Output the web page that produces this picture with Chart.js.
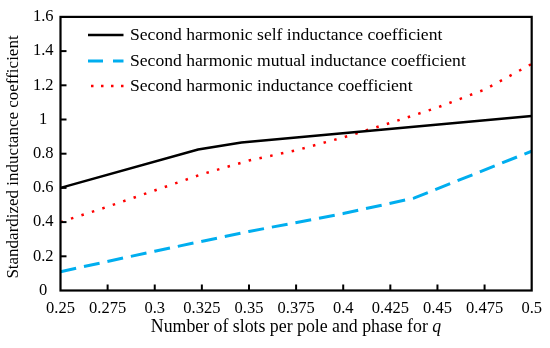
<!DOCTYPE html>
<html><head><meta charset="utf-8">
<script src="https://cdn.jsdelivr.net/npm/chart.js@4.4.1/dist/chart.umd.min.js"></script>
<style>html,body{margin:0;padding:0;background:#fff}</style>
</head><body>
<canvas id="c" width="550" height="348"></canvas>
<script>
const seriesLabels = [
  'Second harmonic self inductance coefficient',
  'Second harmonic mutual inductance coefficient',
  'Second harmonic inductance coefficient'
];
const selfX = [0.25, 0.323, 0.346, 0.5];
const selfY = [0.60, 0.825, 0.865, 1.02];
const mutualX = [0.25, 0.30, 0.35, 0.40, 0.4375, 0.5];
const mutualY = [0.11, 0.23, 0.345, 0.45, 0.54, 0.815];
const totalX = [0.25, 0.275, 0.30, 0.325, 0.35, 0.375, 0.40, 0.425, 0.45, 0.475, 0.5];
const totalY = [0.40, 0.49, 0.585, 0.68, 0.76, 0.82, 0.895, 0.98, 1.07, 1.175, 1.325];
const xTickValues = [0.25, 0.275, 0.3, 0.325, 0.35, 0.375, 0.4, 0.425, 0.45, 0.475, 0.5];
const yTickValues = [0, 0.2, 0.4, 0.6, 0.8, 1, 1.2, 1.4, 1.6];
const xTitle = 'Number of slots per pole and phase for ';
const xTitleVar = 'q';
const yTitle = 'Standardized inductance coefficient';

const FONT = '"Liberation Serif", serif';
const pts = (xs, ys) => xs.map((x, i) => ({x, y: ys[i]}));
const fmt = v => String(Number(Number(v).toFixed(3)));

const decor = {
  id: 'decor',
  afterDatasetsDraw(chart) {
    const {ctx, chartArea: a, scales} = chart;
    ctx.save();
    ctx.strokeStyle = '#000';
    // inner ticks
    ctx.lineWidth = 2;
    scales.x.ticks.forEach(t => {
      const px = scales.x.getPixelForValue(t.value);
      if (px <= a.left + 2 || px >= a.right - 2) return;
      ctx.beginPath(); ctx.moveTo(px, a.bottom); ctx.lineTo(px, a.bottom - 6); ctx.stroke();
    });
    scales.y.ticks.forEach(t => {
      const py = scales.y.getPixelForValue(t.value);
      if (py >= a.bottom - 2 || py <= a.top + 2) return;
      ctx.beginPath(); ctx.moveTo(a.left, py); ctx.lineTo(a.left + 6, py); ctx.stroke();
    });
    // frame
    ctx.lineWidth = 2.2;
    ctx.strokeRect(a.left, a.top, a.right - a.left, a.bottom - a.top);
    // legend
    const rows = [35, 61, 86];
    chart.data.datasets.forEach((ds, i) => {
      const y = rows[i];
      ctx.save();
      ctx.strokeStyle = ds.borderColor;
      ctx.lineWidth = ds.borderWidth;
      ctx.setLineDash(ds.legendDash || []);
      ctx.lineDashOffset = ds.legendOffset || 0;
      ctx.beginPath(); ctx.moveTo(88, y); ctx.lineTo(123.5, y); ctx.stroke();
      ctx.restore();
      ctx.fillStyle = '#000';
      ctx.font = '17.6px ' + FONT;
      ctx.textBaseline = 'middle';
      ctx.textAlign = 'left';
      ctx.fillText(ds.label, 130, y);
    });
    // axis titles
    ctx.fillStyle = '#000';
    ctx.font = '17.8px ' + FONT;
    const w1 = ctx.measureText(xTitle).width;
    ctx.font = 'italic 17.8px ' + FONT;
    const w2 = ctx.measureText(xTitleVar).width;
    const cx = 296, x0 = cx - (w1 + w2) / 2;
    ctx.textBaseline = 'alphabetic';
    ctx.textAlign = 'left';
    ctx.font = '17.8px ' + FONT;
    ctx.fillText(xTitle, x0, 332);
    ctx.font = 'italic 17.8px ' + FONT;
    ctx.fillText(xTitleVar, x0 + w1, 332);
    ctx.save();
    ctx.translate(14, 157);
    ctx.rotate(-Math.PI / 2);
    ctx.font = '17px ' + FONT;
    ctx.textAlign = 'center';
    ctx.textBaseline = 'middle';
    ctx.fillText(yTitle, 0, 0);
    ctx.restore();
    ctx.restore();
  }
};

new Chart(document.getElementById('c'), {
  type: 'line',
  data: {
    datasets: [
      {label: seriesLabels[0], data: pts(selfX, selfY), borderColor: '#000000', borderWidth: 2.5,
       pointRadius: 0, tension: 0, legendDash: []},
      {label: seriesLabels[1], data: pts(mutualX, mutualY), borderColor: '#00AEEF', borderWidth: 3,
       borderDash: [16, 8], pointRadius: 0, tension: 0, legendDash: [15, 10]},
      {label: seriesLabels[2], data: pts(totalX, totalY), borderColor: '#FF0000', borderWidth: 2.5,
       borderDash: [2.5, 8.5], pointRadius: 0, tension: 0, legendDash: [2.5, 7.5], legendOffset: -3}
    ]
  },
  options: {
    responsive: false,
    animation: false,
    devicePixelRatio: 1,
    layout: {padding: {top: 15, right: 17, left: 0, bottom: 0}},
    plugins: {legend: {display: false}, tooltip: {enabled: false}},
    scales: {
      x: {
        type: 'linear', min: 0.25, max: 0.5,
        afterBuildTicks: s => { s.ticks = xTickValues.map(v => ({value: v})); },
        afterFit: s => { s.height = 57.5; },
        grid: {display: false, drawTicks: false},
        border: {display: false},
        ticks: {color: '#000', font: {family: FONT, size: 16.5}, padding: 8, maxRotation: 0, autoSkip: false,
                callback: v => fmt(v)}
      },
      y: {
        type: 'linear', min: 0, max: 1.6,
        afterBuildTicks: s => { s.ticks = yTickValues.map(v => ({value: v})); },
        afterFit: s => { s.width = 60.5; },
        grid: {display: false, drawTicks: false},
        border: {display: false},
        ticks: {color: '#000', font: {family: FONT, size: 16.5}, padding: 7, crossAlign: 'center',
                callback: v => fmt(v)}
      }
    }
  },
  plugins: [decor]
});
</script>
</body></html>
